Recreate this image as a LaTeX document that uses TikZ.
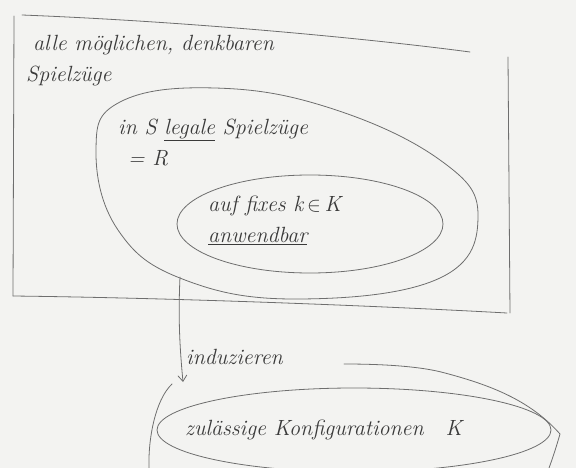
\documentclass[tikz,border=0pt]{standalone}
\usepackage{fontspec}
\usetikzlibrary{shapes.geometric,arrows.meta}
\definecolor{paper}{HTML}{F3F3F1}
\definecolor{pencil}{HTML}{6E6E6E}
\definecolor{ink}{HTML}{3A3A3A}
\tikzset{
  pen/.style={draw=pencil, line width=0.8pt, line cap=round, line join=round},
  note/.style={text=ink, font=\fontsize{22}{24}\selectfont\itshape, inner sep=0pt, align=left},
  setring/.style={pen, ellipse, minimum width=#1},
}
\begin{document}
\begin{tikzpicture}[x=1pt,y=-1pt]
\useasboundingbox[fill=paper] (0,0) rectangle (576,468);

% universe of all moves: a hand-drawn frame
\draw[pen] (22,15) .. controls (200,22) and (380,40) .. (470,52);
\draw[pen] (14,16) -- (13,296);
\draw[pen] (13,296) .. controls (180,298) and (380,306) .. (507,313);
\draw[pen] (508,57) -- (510,313);

\node[note, anchor=west] (alle) at (33,45) {alle möglichen, denkbaren};
\node[note, anchor=west] (spiel) at (26,76) {Spielzüge};

% legal moves in S
\draw[pen] plot[smooth cycle, tension=0.7] coordinates {
  (96,150) (120,102) (215,88) (330,108) (440,160) (478,215)
  (440,278) (300,299) (185,280) (118,230)};
\node[note, anchor=west] (legal) at (118,130) {in S \underline{legale} Spielzüge};
\node[note, anchor=west] (R) at (128,158) {= R};

% moves applicable to a fixed k
\node[setring=266pt, minimum height=98pt] (fix) at (310,224) {};
\node[note, anchor=west] (auf) at (208,206) {auf fixes k\,$\in$\,K};
\node[note, anchor=west] (anw) at (208,236) {\underline{anwendbar}};

% admissible configurations
\node[setring=394pt, minimum height=84pt] (konf) at (354,430) {};
\node[note, anchor=west] (zul) at (185,430) {zulässige Konfigurationen\quad K};
\draw[pen] (172,384) .. controls (155,400) and (148,440) .. (149,468);
\draw[pen] (344,364) .. controls (380,364) and (420,366) .. (445,373)
  .. controls (490,385) and (530,400) .. (560,434)
  .. controls (556,448) and (552,460) .. (549,468);

% induced relation
\coordinate (src) at (180,277);
\coordinate (dst) at (183,382);
\draw[pen, -{Straight Barb[length=6pt,width=9pt]}] (src) .. controls (178,320) and (180,350) .. (dst);
\node[note, anchor=west] (ind) at (186,357) {induzieren};
\end{tikzpicture}
\end{document}
